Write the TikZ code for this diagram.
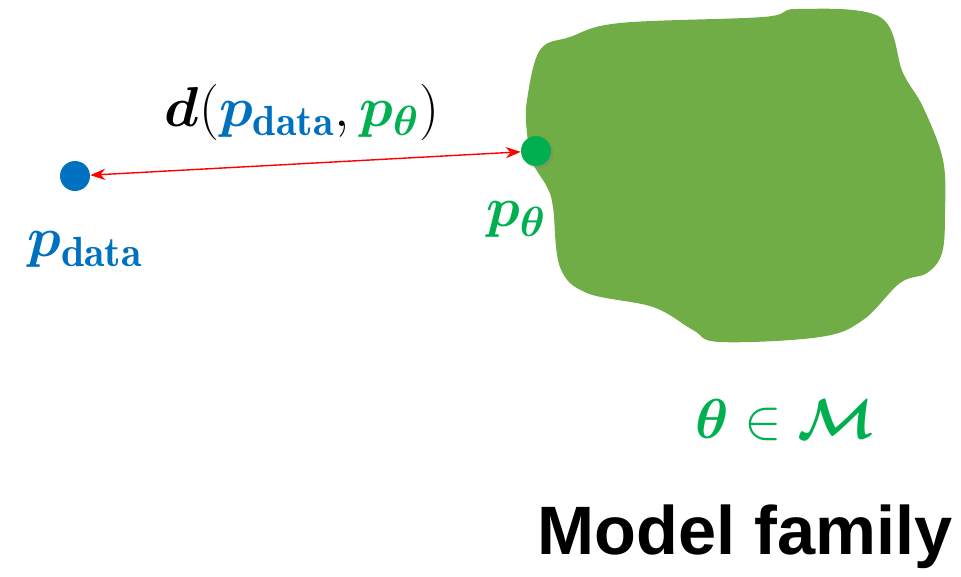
\RequirePackage{fix-cm}
\documentclass[tikz,border=0pt]{standalone}
\usepackage{amsmath}
\usepackage{bm}
\usepackage{fontspec}
\setsansfont{Liberation Sans}
\DeclareMathSizes{32}{32}{24}{19}
\usetikzlibrary{positioning}
\usetikzlibrary{arrows.meta}
\usetikzlibrary{shadows}
\definecolor{dblue}{HTML}{0070C0}
\definecolor{dgreen}{HTML}{00B050}
\definecolor{blobgreen}{HTML}{70AD47}

\begin{document}
\begin{tikzpicture}[x=0.02cm, y=-0.02cm, dot/.style = {circle, inner sep=0pt, minimum size=0.6cm}, lbl/.style = {font=\fontsize{32}{38}\selectfont, inner sep=0pt}]
        \useasboundingbox (0,0) rectangle (961,576);
        % model family
        \fill[blobgreen] plot[smooth cycle, tension=0.6] coordinates {(527,100) (540,50) (570,37) (620,23) (763,17) (797,9) (880,17) (903,73) (923,107) (943,160) (945,213) (942,253) (927,273) (900,283) (863,320) (820,337) (720,342) (693,330) (653,307) (587,293) (560,267) (553,207) (547,187) (533,163) (527,133)};
        \node[dot, fill=dblue] (pd) at (75,176) {};
        \node[dot, fill=dgreen, drop shadow={opacity=0.35, shadow xshift=0.5mm, shadow yshift=-0.5mm}] (pt) at (536,151) {};
        \node[lbl, text=dblue] (pdl) [below=0.8cm of pd, xshift=0.2cm] {$\bm{p}_{\mathbf{data}}$};
        \node[lbl, text=dgreen] (ptl) [below=0.7cm of pt, xshift=-0.4cm] {$\bm{p}_{\bm{\theta}}$};
        \draw[red, thick, {Stealth[length=3mm]}-{Stealth[length=3mm]}] (pd) -- (pt);
        \node[lbl] (dist) at (302,112) {$\bm{d}\mathbf{(}\textcolor{dblue}{\bm{p}_{\mathbf{data}}},\textcolor{dgreen}{\bm{p}_{\bm{\theta}}}\mathbf{)}$};
        \node[lbl, text=dgreen] (mem) at (785,420) {$\bm{\theta}\in\bm{\mathcal{M}}$};
        \node[font=\sffamily\bfseries\fontsize{39}{46}\selectfont, inner sep=0pt] (fam) at (745,537) {Model family};
    \end{tikzpicture}
\end{document}
